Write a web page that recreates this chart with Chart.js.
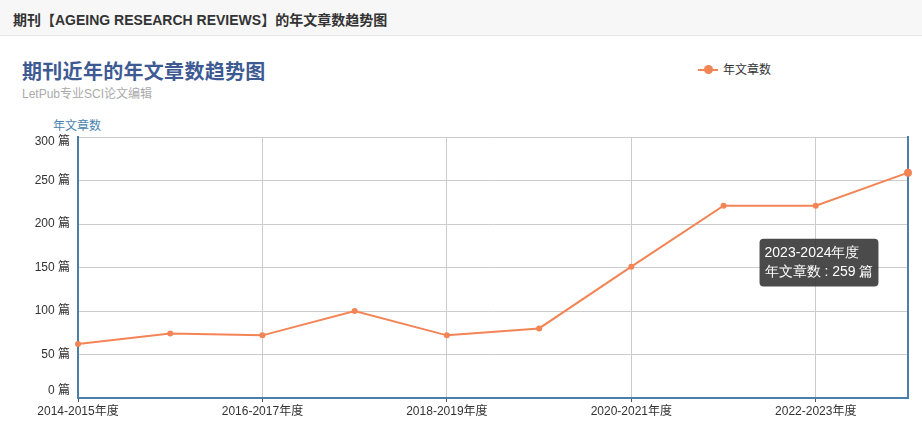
<!DOCTYPE html>
<html>
<head>
    <meta charset="utf-8">
    <title>年文章数趋势图</title>
    <script src="https://cdn.jsdelivr.net/npm/chart.js"></script>
    <style>
        body { margin: 0; font-family: Arial, "Liberation Sans", "Noto Sans CJK SC", sans-serif; background: #fff; }
        #wrap { position: relative; width: 922px; height: 436px; overflow: hidden; }
        #head { position: absolute; left: 0; top: 0; width: 922px; height: 36px; background: #f7f7f7; border-bottom: 1px solid #e6e6e6; box-sizing: border-box; }
        #head span { position: absolute; left: 13px; top: 9px; font-size: 14px; font-weight: bold; color: #333; }
        .txt { position: absolute; white-space: nowrap; }
        #title { left: 22px; top: 56px; font-size: 20px; font-weight: bold; color: #3d5a93; letter-spacing: 0.3px; }
        #sub { left: 22px; top: 84px; font-size: 12px; color: #aaa; }
        #ytitle { left: 53px; top: 116px; font-size: 12px; color: #4a83b0; }
        #legend { left: 698px; top: 60px; font-size: 12px; color: #333; }
        #legend i { display: inline-block; position: relative; width: 20px; height: 2px; background: #f28455; vertical-align: middle; margin-right: 5px; top: -1px; }
        #legend i:after { content: ""; position: absolute; left: 6px; top: -4px; width: 9px; height: 9px; border-radius: 50%; background: #f28455; }
        canvas { position: absolute; left: 0; top: 0; z-index: 1; }
    </style>
</head>
<body>
<div id="wrap">
    <div id="head"><span>期刊【AGEING RESEARCH REVIEWS】的年文章数趋势图</span></div>
    <div class="txt" id="title">期刊近年的年文章数趋势图</div>
    <div class="txt" id="sub">LetPub专业SCI论文编辑</div>
    <div class="txt" id="ytitle">年文章数</div>
    <div class="txt" id="legend"><i></i>年文章数</div>
    <canvas id="trendChart" width="922" height="436"></canvas>
</div>

<script>
    const years = ['2014-2015年度', '2015-2016年度', '2016-2017年度', '2017-2018年度', '2018-2019年度',
                   '2019-2020年度', '2020-2021年度', '2021-2022年度', '2022-2023年度', '2023-2024年度'];
    const articleCounts = [62, 74, 72, 100, 72, 80, 151, 221, 221, 259];
    const seriesName = '年文章数';
    const unit = '篇';

    const orange = '#f28455';
    const axisBlue = '#4a7eab';
    const gridGray = '#cccccc';

    // tooltip sits below-left of the hovered point, like the original page
    const tooltipPlugin = Chart.registry.getPlugin('tooltip');
    tooltipPlugin.positioners.belowLeft = function(items) {
        if (!items.length) return false;
        const el = items[0].element;
        return { x: el.x - 89, y: el.y + 90 };
    };

    // the top and bottom y labels are pulled inside the plot edges
    const edgeLabels = {
        id: 'edgeLabels',
        afterLayout(chart) {
            const s = chart.scales.y;
            if (!s || s._edgePatched || typeof s._computeLabelItems !== 'function') return;
            const orig = s._computeLabelItems.bind(s);
            s._computeLabelItems = function(area) {
                const items = orig(area);
                if (items.length) {
                    items[0].options.translation[1] -= 7;
                    items[items.length - 1].options.translation[1] += 5;
                }
                return items;
            };
            s._edgePatched = true;
        }
    };

    const ctx = document.getElementById('trendChart').getContext('2d');

    const chart = new Chart(ctx, {
        type: 'line',
        data: {
            labels: years,
            datasets: [{
                label: seriesName,
                data: articleCounts,
                borderColor: orange,
                backgroundColor: orange,
                borderWidth: 2,
                pointRadius: 3,
                pointHoverRadius: 4,
                pointBorderWidth: 0,
                pointHoverBorderWidth: 0,
                pointHoverBackgroundColor: orange,
                pointHoverBorderColor: orange,
                tension: 0,
                fill: false
            }]
        },
        options: {
            responsive: false,
            animation: false,
            events: [],
            layout: { padding: { top: 137, left: 0, right: 0, bottom: 0 } },
            font: { family: 'Arial, "Liberation Sans", "Noto Sans CJK SC", sans-serif' },
            plugins: {
                legend: { display: false },
                title: { display: false },
                tooltip: {
                    position: 'belowLeft',
                    xAlign: 'center',
                    yAlign: 'center',
                    caretSize: 0,
                    caretPadding: 0,
                    displayColors: false,
                    backgroundColor: 'rgba(50,50,50,0.88)',
                    cornerRadius: 4,
                    padding: { x: 5, y: 6 },
                    titleFont: { size: 14, weight: 'normal' },
                    bodyFont: { size: 14 },
                    titleMarginBottom: 2,
                    titleColor: '#fff',
                    bodyColor: '#fff',
                    callbacks: {
                        label: function(context) {
                            return seriesName + ' : ' + context.parsed.y + ' ' + unit;
                        }
                    }
                }
            },
            scales: {
                x: {
                    offset: false,
                    afterFit: s => { s.height = 38; },
                    border: { color: axisBlue, width: 2 },
                    grid: {
                        color: c => (c.index % 2 === 0 ? gridGray : 'rgba(0,0,0,0)'),
                        tickColor: c => (c.index % 2 === 0 ? '#555' : 'rgba(0,0,0,0)'),
                        tickLength: 4
                    },
                    ticks: {
                        autoSkip: false,
                        maxRotation: 0,
                        padding: 2,
                        color: '#333',
                        font: { size: 12 },
                        callback: function(value, index) {
                            return index % 2 === 0 ? this.getLabelForValue(value) : '';
                        }
                    }
                },
                y: {
                    min: 0,
                    max: 300,
                    afterFit: s => { s.width = 78; },
                    border: { color: axisBlue, width: 2 },
                    grid: { color: gridGray, drawTicks: false },
                    ticks: {
                        stepSize: 50,
                        padding: 8,
                        color: '#333',
                        font: { size: 12 },
                        callback: v => v + ' ' + unit
                    }
                },
                yRight: {
                    position: 'right',
                    min: 0,
                    max: 300,
                    afterFit: s => { s.width = 14; },
                    border: { color: axisBlue, width: 2 },
                    grid: { drawOnChartArea: false, drawTicks: false },
                    ticks: { display: false }
                }
            }
        },
        plugins: [edgeLabels]
    });

    // keep the last point's tooltip open as in the screenshot
    const last = [{ datasetIndex: 0, index: articleCounts.length - 1 }];
    chart.setActiveElements(last);
    chart.tooltip.setActiveElements(last, { x: 0, y: 0 });
    chart.update();
</script>
</body>
</html>
